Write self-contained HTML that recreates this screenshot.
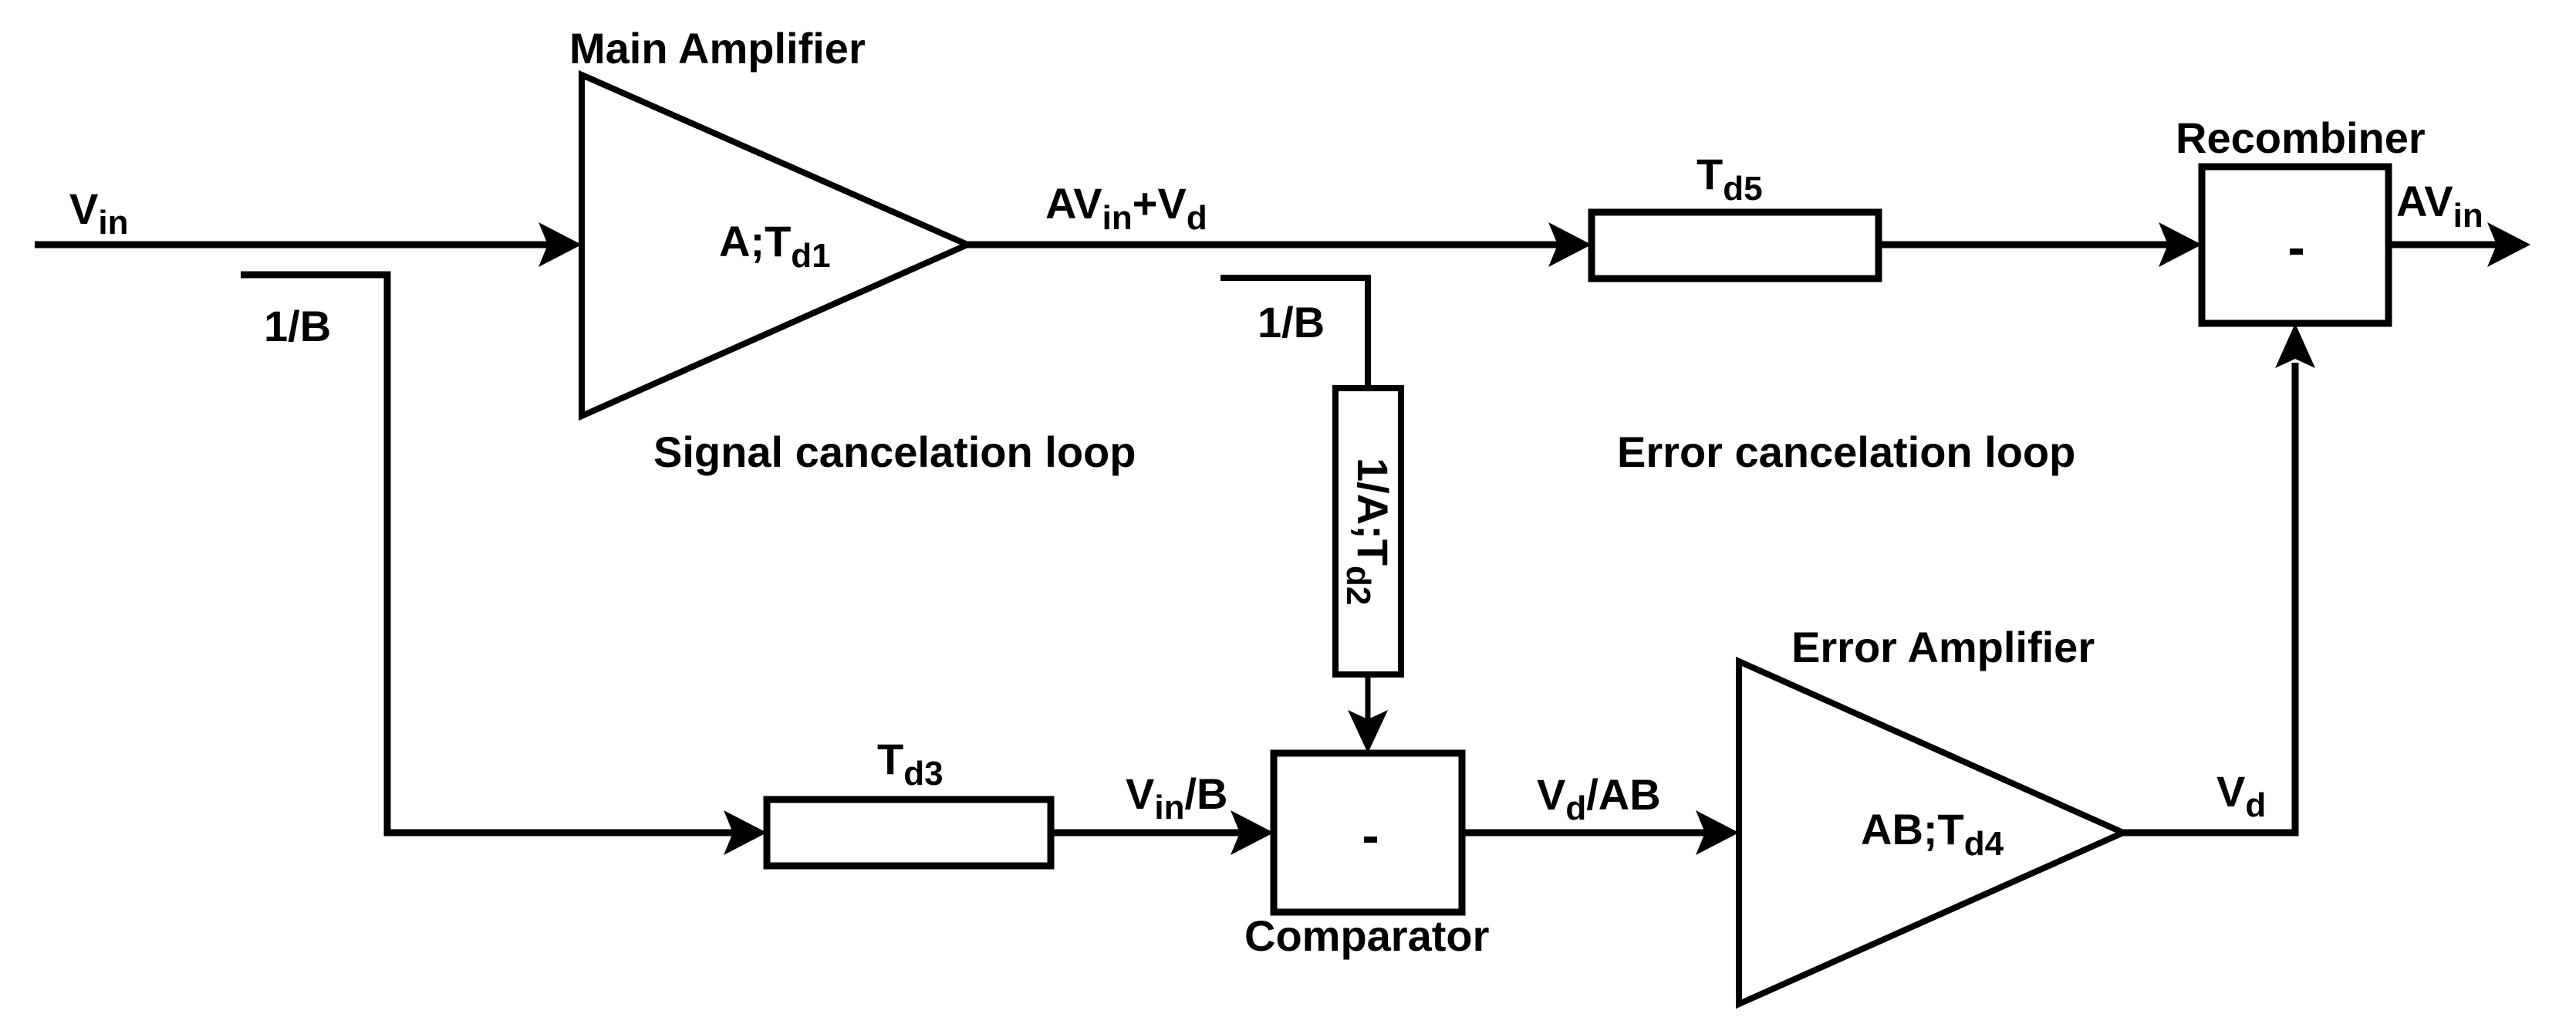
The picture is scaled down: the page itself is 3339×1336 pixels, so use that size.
<!DOCTYPE html>
<html><head><meta charset="utf-8"><style>
html,body{margin:0;padding:0;background:#fff;}
svg{display:block;}
text{font-family:"Liberation Sans",Arial,sans-serif;font-weight:bold;font-size:56px;fill:#000;}
.s{font-size:44px;}
</style></head><body>
<svg width="3339" height="1336" viewBox="0 0 3339 1336" xmlns="http://www.w3.org/2000/svg">
<g stroke="#000" stroke-width="9" fill="none">
<!-- input line -->
<line x1="45" y1="317" x2="710" y2="317"/>
<!-- 1/B branch left -->
<polyline points="312,356 502,356 502,1079 950,1079"/>
<!-- main amp triangle -->
<polygon points="754,97 754,539 1254,317" stroke-width="8"/>
<!-- output of main amp -->
<line x1="1254" y1="317" x2="2020" y2="317"/>
<!-- Td5 box -->
<rect x="2063" y="275" width="372" height="86" stroke-width="9"/>
<line x1="2435" y1="317" x2="2810" y2="317"/>
<!-- Recombiner -->
<rect x="2854" y="216" width="242" height="203"/>
<line x1="3096" y1="317" x2="3240" y2="317"/>
<!-- second 1/B -->
<polyline points="1582,360 1773,360 1773,499" stroke-width="8"/>
<!-- 1/A;Td2 box -->
<rect x="1731" y="503" width="85" height="371" stroke-width="8"/>
<line x1="1773" y1="878" x2="1773" y2="935" stroke-width="7"/>
<!-- Td3 box -->
<rect x="994" y="1036" width="368" height="86"/>
<line x1="1362" y1="1079" x2="1610" y2="1079"/>
<!-- comparator -->
<rect x="1651" y="976" width="244" height="206"/>
<line x1="1895" y1="1079" x2="2215" y2="1079"/>
<!-- error amp -->
<polygon points="2254,857 2254,1301 2752,1079" stroke-width="8"/>
<polyline points="2752,1079 2975,1079 2975,470"/>
</g>
<g fill="#000">
<!-- arrowheads (right) -->
<path d="M754,317 L698,288 L710,317 L698,346 Z"/>
<path d="M2063,317 L2007,288 L2019,317 L2007,346 Z"/>
<path d="M2854,317 L2798,288 L2810,317 L2798,346 Z"/>
<path d="M3280,317 L3224,288 L3236,317 L3224,346 Z"/>
<path d="M994,1079 L938,1050 L950,1079 L938,1108 Z"/>
<path d="M1651,1079 L1595,1050 L1607,1079 L1595,1108 Z"/>
<path d="M2254,1079 L2198,1050 L2210,1079 L2198,1108 Z"/>
<!-- down arrow -->
<path d="M1773,976 L1747,920 L1773,932 L1799,920 Z"/>
<!-- up arrow -->
<path d="M2975,419 L2949,477 L2975,465 L3001,477 Z"/>
<!-- minus dashes -->
<rect x="2968" y="322" width="17" height="8"/>
<rect x="1768" y="1084" width="17" height="8"/>
</g>
<text x="738" y="82">Main Amplifier</text>
<text x="90" y="290">V<tspan class="s" dy="13">in</tspan></text>
<text x="342" y="442">1/B</text>
<text x="932" y="332">A;T<tspan class="s" dy="14">d1</tspan></text>
<text x="1355" y="283">AV<tspan class="s" dy="14">in</tspan><tspan dy="-14">+V</tspan><tspan class="s" dy="14">d</tspan></text>
<text x="1630" y="437">1/B</text>
<text x="847" y="605">Signal cancelation loop</text>
<text x="2096" y="605">Error cancelation loop</text>
<text x="2199" y="245">T<tspan class="s" dy="14">d5</tspan></text>
<text x="2820" y="198">Recombiner</text>
<text x="3106" y="280">AV<tspan class="s" dy="14">in</tspan></text>
<text transform="translate(1760,593) rotate(90)" x="0" y="0">1/A;T<tspan class="s" dy="14">d2</tspan></text>
<text x="1137" y="1003">T<tspan class="s" dy="14">d3</tspan></text>
<text x="1459" y="1048">V<tspan class="s" dy="13">in</tspan><tspan dy="-13">/B</tspan></text>
<text x="1613" y="1232">Comparator</text>
<text x="1992" y="1049">V<tspan class="s" dy="13">d</tspan><tspan dy="-13">/AB</tspan></text>
<text x="2322" y="858">Error Amplifier</text>
<text x="2412" y="1094">AB;T<tspan class="s" dy="14">d4</tspan></text>
<text x="2873" y="1045">V<tspan class="s" dy="13">d</tspan></text>
</svg>
</body></html>
